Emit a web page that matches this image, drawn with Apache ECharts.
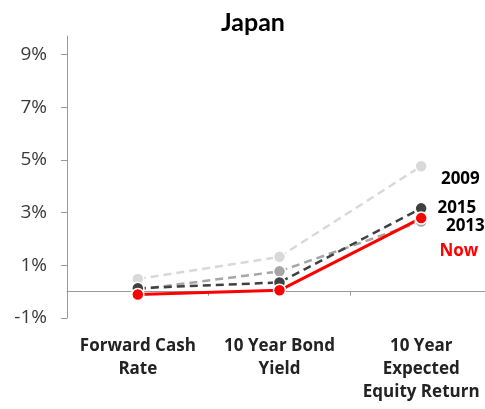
<!DOCTYPE html>
<html>
<head>
<meta charset="utf-8">
<script src="https://cdn.jsdelivr.net/npm/echarts@6/dist/echarts.min.js"></script>
<style>
  html, body { margin: 0; padding: 0; background: #fff; }
  #chart { width: 485px; height: 409px; }
</style>
</head>
<body>
<div id="chart"></div>
<script>
// Japan: cash, bond and expected equity returns (%)
const categories = ['Forward Cash\nRate', '10 Year Bond\nYield', '10 Year\nExpected\nEquity Return'];
const tickValues = [-1, 1, 3, 5, 7, 9];

const values2009 = [0.48, 1.32, 4.76];
const values2013 = [0.08, 0.77, 2.66];
const values2015 = [0.13, 0.35, 3.16];
const valuesNow  = [-0.11, 0.05, 2.79];

const FONT = '"Open Sans", Lato, sans-serif';
const TITLE_FONT = 'Lato, "Open Sans", sans-serif';

function makeSeries(name, data, color, dashed, width, labelColor, labelOffset) {
  return {
    name: name,
    type: 'line',
    data: data.map((v, i) => i === data.length - 1 ? {
      value: v,
      label: {
        show: true,
        position: 'right',
        distance: 0,
        offset: labelOffset,
        formatter: name,
        color: labelColor,
        fontFamily: FONT,
        fontWeight: 'bold',
        fontSize: 17
      }
    } : v),
    symbol: 'circle',
    symbolSize: 12,
    showSymbol: true,
    lineStyle: { color: color, width: width, type: dashed ? [8, 5] : 'solid' },
    itemStyle: { color: color, borderColor: '#fff', borderWidth: 1.5 },
    emphasis: { disabled: true },
    animation: false
  };
}

const chart = echarts.init(document.getElementById('chart'), null, { renderer: 'canvas' });
chart.setOption({
  backgroundColor: '#fff',
  title: {
    text: 'Japan',
    left: 216,
    top: 5,
    textStyle: { fontFamily: TITLE_FONT, fontWeight: 'bold', fontSize: 25, color: '#000' }
  },
  grid: { left: 67, right: -7, top: 36, bottom: 91, containLabel: false, outerBoundsMode: 'none' },
  xAxis: {
    type: 'category',
    data: categories,
    boundaryGap: true,
    axisLine: { onZero: true, lineStyle: { color: '#999', width: 1 } },
    axisTick: { show: true, length: 4, lineStyle: { color: '#999' } },
    axisLabel: {
      margin: 17,
      interval: 0,
      color: '#222',
      fontFamily: FONT,
      fontWeight: 'bold',
      fontSize: 17,
      lineHeight: 23,
      align: 'center'
    },
    splitLine: { show: false }
  },
  yAxis: {
    type: 'value',
    min: -1,
    max: 9.7,
    axisLine: { show: true, lineStyle: { color: '#999', width: 1 } },
    axisTick: { show: true, length: 6, customValues: tickValues, lineStyle: { color: '#999' } },
    axisLabel: {
      customValues: tickValues,
      margin: 20,
      color: '#3a3a3a',
      fontFamily: FONT,
      fontSize: 19,
      formatter: v => v + '%'
    },
    splitLine: { show: false }
  },
  series: [
    makeSeries('2009', values2009, '#d9d9d9', true, 2.5, '#000', [13, 13]),
    makeSeries('2013', values2013, '#a6a6a6', true, 2.5, '#000', [18, 4.5]),
    makeSeries('2015', values2015, '#404040', true, 2.5, '#000', [9.5, 0]),
    makeSeries('Now', valuesNow, '#ff0000', false, 3, '#ff0000', [11.5, 33])
  ]
});
</script>
</body>
</html>
